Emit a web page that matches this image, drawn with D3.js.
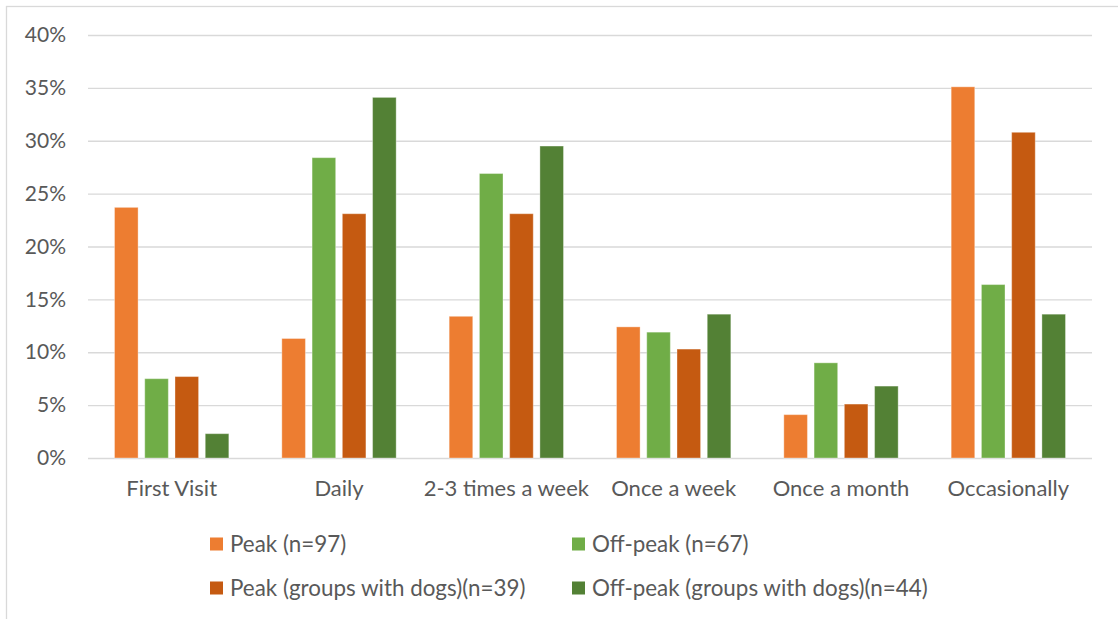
<!DOCTYPE html>
<html>
<head>
<meta charset="utf-8">
<script src="https://cdn.jsdelivr.net/npm/d3@7"></script>
<style>
  html, body { margin: 0; padding: 0; background: #fff; }
  svg { display: block; }
  text { font-family: Lato, "Open Sans", sans-serif; fill: #595959; }
</style>
</head>
<body>
<svg id="chart" width="1118" height="619"></svg>
<script>
const categories = ["First Visit", "Daily", "2-3 times a week", "Once a week", "Once a month", "Occasionally"];
const seriesNames = ["Peak (n=97)", "Off-peak (n=67)", "Peak (groups with dogs)(n=39)", "Off-peak (groups with dogs)(n=44)"];
const peak = [23.7, 11.3, 13.4, 12.4, 4.1, 35.1];
const offPeak = [7.5, 28.4, 26.9, 11.9, 9.0, 16.4];
const peakDogs = [7.7, 23.1, 23.1, 10.3, 5.1, 30.8];
const offPeakDogs = [2.3, 34.1, 29.5, 13.6, 6.8, 13.6];
const yTicks = [0, 5, 10, 15, 20, 25, 30, 35, 40];
const colors = ["#ED7D31", "#70AD47", "#C55A11", "#538135"];

const seriesValues = [peak, offPeak, peakDogs, offPeakDogs];
const svg = d3.select("#chart");

// outer frame
svg.append("rect")
  .attr("x", 6.5).attr("y", 6.5).attr("width", 1300).attr("height", 800)
  .attr("fill", "none").attr("stroke", "#d9d9d9").attr("stroke-width", 1.3);

const plotLeft = 88, plotRight = 1092, plotTop = 35, plotBottom = 458;

const y = d3.scaleLinear().domain([0, 40]).range([plotBottom, plotTop]);
const x0 = d3.scaleBand().domain(categories).range([plotLeft, plotRight]).padding(0);
const x1 = d3.scaleBand().domain(d3.range(seriesNames.length))
  .range([26.5, x0.bandwidth() - 26.5]).paddingInner(0.22).paddingOuter(0);

// gridlines
const yAxis = d3.axisLeft(y).tickValues(yTicks).tickFormat(d => d + "%")
  .tickSize(-(plotRight - plotLeft)).tickPadding(22);
const gy = svg.append("g").attr("transform", `translate(${plotLeft},0)`).call(yAxis);
gy.select(".domain").remove();
gy.selectAll(".tick line").attr("stroke", "#d9d9d9").attr("stroke-width", 1.4);
gy.selectAll(".tick text").attr("font-size", 21).attr("fill", "#595959")
  .attr("font-family", "Lato, sans-serif");

// bars
const groups = svg.append("g").selectAll("g")
  .data(categories).join("g")
  .attr("transform", d => `translate(${x0(d)},0)`);

groups.selectAll("rect")
  .data((c, ci) => seriesValues.map((vals, si) => ({ si, v: vals[ci] })))
  .join("rect")
  .attr("x", d => x1(d.si))
  .attr("width", x1.bandwidth())
  .attr("y", d => y(d.v))
  .attr("height", d => y(0) - y(d.v))
  .attr("fill", d => colors[d.si])
  .attr("stroke", "#ffffff").attr("stroke-opacity", 0.35).attr("stroke-width", 1);

// category axis labels
const xAxis = d3.axisBottom(x0).tickSize(0).tickPadding(22);
const gx = svg.append("g").attr("transform", `translate(0,${plotBottom})`).call(xAxis);
gx.select(".domain").remove();
gx.selectAll(".tick text").attr("font-size", 22).attr("fill", "#595959")
  .attr("font-family", "Lato, sans-serif");

// legend
const legendPos = [
  { x: 210, y: 544 }, { x: 572, y: 544 },
  { x: 210, y: 588 }, { x: 572, y: 588 }
];
const lg = svg.append("g").selectAll("g").data(seriesNames).join("g")
  .attr("transform", (d, i) => `translate(${legendPos[i].x},${legendPos[i].y})`);
lg.append("rect").attr("x", 0).attr("y", -6.5).attr("width", 13).attr("height", 13)
  .attr("fill", (d, i) => colors[i]);
lg.append("text").attr("x", 20).attr("y", 0).attr("dy", "0.35em")
  .attr("font-size", 22.4).text(d => d);
</script>
</body>
</html>
